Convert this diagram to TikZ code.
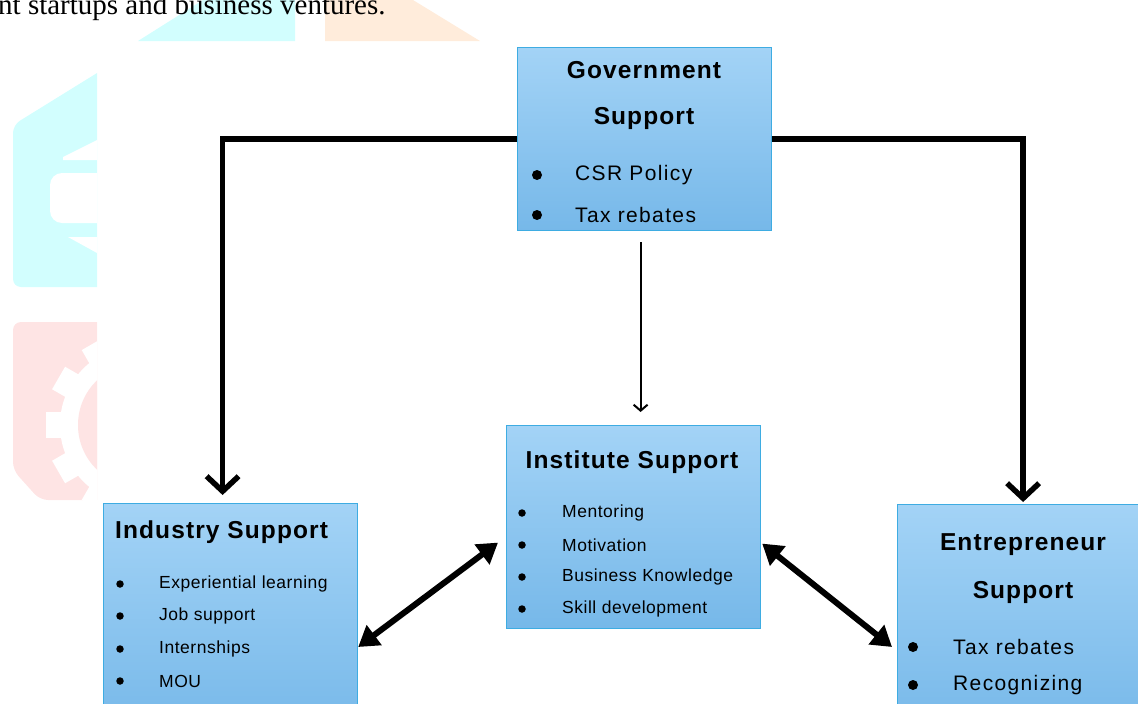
\documentclass[tikz,border=0pt]{standalone}
\usepackage{fontspec}
\setmainfont{Liberation Sans}
\newfontfamily\pagefont{Liberation Serif}
\usetikzlibrary{arrows.meta}
\definecolor{boxtop}{RGB}{163,211,246}
\definecolor{boxbot}{RGB}{118,184,233}
\definecolor{boxline}{RGB}{62,172,226}
\definecolor{wmcyan}{RGB}{210,254,254}
\definecolor{wmpeach}{RGB}{255,236,219}
\definecolor{wmpink}{RGB}{254,228,228}
\tikzset{
  box/.style={draw=boxline, line width=1.2pt, top color=boxtop, bottom color=boxbot,
    anchor=north west, minimum width=254pt, inner sep=0pt},
  head/.style={font=\fontsize{24.5}{28}\selectfont\bfseries\addfontfeature{LetterSpace=4.5}, inner sep=0pt},
  bigitem/.style={font=\fontsize{21}{25}\selectfont\addfontfeature{LetterSpace=6.5}, anchor=west, inner sep=0pt},
  smallitem/.style={font=\fontsize{17.5}{21}\selectfont\addfontfeature{LetterSpace=3}, anchor=west, inner sep=0pt},
  bigdot/.style={circle, fill=black, inner sep=0pt, minimum size=10pt},
  smalldot/.style={circle, fill=black, inner sep=0pt, minimum size=7.5pt},
  heavy/.style={line width=5.5pt, -{Straight Barb[length=15pt,width=32pt]}},
  slim/.style={line width=2pt, -{Straight Barb[length=6pt,width=14pt]}},
  twoway/.style={line width=6pt, {Triangle[length=20pt,width=24pt]}-{Triangle[length=20pt,width=24pt]}}
}
\begin{document}
\begin{tikzpicture}[x=1pt,y=-1pt]
  \useasboundingbox (0,0) rectangle (1138,704);
  \clip (0,0) rectangle (1138,704);
  % faded logo behind the text
  \fill [wmcyan] (138,41) -- (203,0) -- (295,0) -- (295,41) -- cycle;
  \fill [wmpeach] (325,41) -- (325,0) -- (413,0) -- (480,41) -- cycle;
  \begin{scope}
    \clip (0,0) rectangle (97,704);
    \fill [wmcyan, rounded corners=8pt] (13,287) -- (13,125) -- (110,65) -- (110,287) -- cycle;
    \fill [white, rounded corners=12pt] (50,173) rectangle (120,223);
    \fill [white] (63,157) -- (97,140) -- (97,160) -- (63,160) -- cycle;
    \fill [white] (68,237) -- (97,237) -- (97,253) -- cycle;
    \fill [wmpink, rounded corners=8pt] (13,322) -- (110,322) -- (110,500) -- (40,500) -- (13,470) -- cycle;
    \fill [white] (140,425) circle (80);
    \foreach \a in {0,30,...,330}
      \fill [white, rotate around={\a:(140,425)}] (46,412) rectangle (70,438);
    \fill [wmpink] (140,425) circle (62);
  \end{scope}
  \node [anchor=base west, inner sep=0pt, font=\pagefont\fontsize{29}{34}\selectfont] (page) at (-2,14) {nt startups and business ventures.};

  \node [box, minimum height=183pt] (gov) at (517,47) {};
  \node [box, minimum height=203pt] (inst) at (506,425) {};
  \node [box, minimum height=230pt] (ind) at (103,503) {};
  \node [box, minimum height=230pt] (entr) at (897,504) {};

  \node [head] (govt1) at (644,70) {Government};
  \node [head] (govt2) at (644,118) {Support};
  \foreach \t/\y [count=\i] in {CSR Policy/175, Tax rebates/215}
  {
    \node [bigdot] (gd\i) at (537,\y) {};
    \node [bigitem] (gi\i) at (575,\y) {\t};
  }

  \node [head, anchor=west] (indt) at (115,532) {Industry Support};
  \foreach \t/\y [count=\i] in {Experiential learning/584, Job support/616, Internships/649, MOU/681}
  {
    \node [smalldot] (nd\i) at (120,\y) {};
    \node [smallitem] (ni\i) at (159,\y) {\t};
  }

  \node [head] (instt) at (632,462) {Institute Support};
  \foreach \t/\y [count=\i] in {Mentoring/513, Motivation/545, Business Knowledge/577, Skill development/609}
  {
    \node [smalldot] (sd\i) at (522,\y) {};
    \node [smallitem] (si\i) at (562,\y) {\t};
  }

  \node [head] (entrt1) at (1023,545) {Entrepreneur};
  \node [head] (entrt2) at (1023,592) {Support};
  \foreach \t/\y [count=\i] in {Tax rebates/647, Recognizing/685}
  {
    \node [bigdot] (ed\i) at (913,\y) {};
    \node [bigitem] (ei\i) at (953,\y) {\t};
  }

  \draw [heavy, shorten >=8pt] (gov.west) -| ([xshift=-8pt]ind.north);
  \draw [heavy, shorten >=2pt] (gov.east) -| ([xshift=-1.5pt]entr.north);
  \draw [slim, shorten <=11pt, shorten >=13pt] ([xshift=-4pt]gov.south) -- ([xshift=-4pt]gov.south |- inst.north);
  \draw [twoway] ([xshift=-8pt,yshift=-15.5pt]inst.west) -- ([yshift=-144pt]ind.north east);
  \draw [twoway] ([xshift=1pt,yshift=-16.5pt]inst.east) -- ([xshift=-5pt,yshift=-143pt]entr.north west);
\end{tikzpicture}
\end{document}
